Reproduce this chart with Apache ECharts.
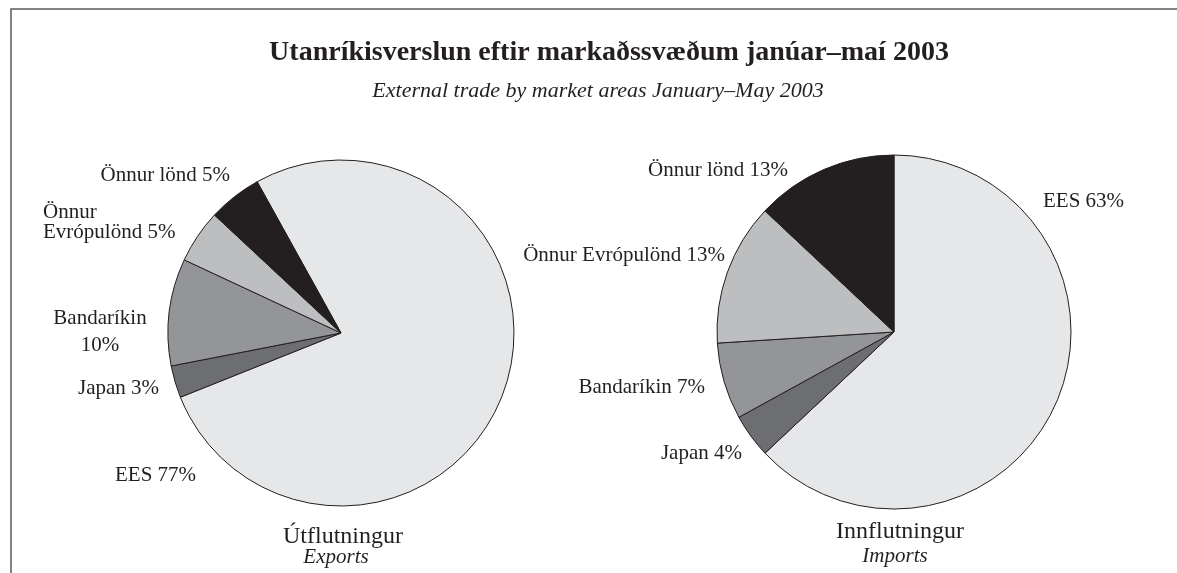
<!DOCTYPE html>
<html>
<head>
<meta charset="utf-8">
<script src="https://cdn.jsdelivr.net/npm/echarts@6/dist/echarts.min.js"></script>
<style>
  html, body { margin: 0; padding: 0; background: #fff; }
  #chart { width: 1177px; height: 573px; }
</style>
</head>
<body>
<div id="chart"></div>
<script>
// market areas, same order in both pies (clockwise from the EES slice)
const categories = ['EES', 'Japan', 'Bandaríkin', 'Önnur Evrópulönd', 'Önnur lönd'];
const exportShares = [77, 3, 10, 5, 5];
const importShares = [63, 4, 7, 13, 13];
const sliceColors = ['#e6e7e8', '#6d6e71', '#939598', '#bcbec0', '#231f20'];

const ink = '#231f20';
const serif = '"Liberation Serif", "Times New Roman", serif';

// label texts where the original breaks the line
const exportLabelText = {
  'Bandaríkin': (v) => `Bandaríkin\n${v}%`,
  'Önnur Evrópulönd': (v) => `Önnur\nEvrópulönd ${v}%`,
};

// where each slice label sits: [x, y (middle), align, lineHeight]
const exportSpots = [
  [115, 475, 'left', 21],
  [78, 388, 'left', 21],
  [100, 332, 'center', 27],
  [43, 222, 'left', 20],
  [230, 175, 'right', 21],
];
const importSpots = [
  [1043, 201, 'left', 21],
  [742, 453, 'right', 21],
  [705, 387, 'right', 21],
  [725, 255, 'right', 21],
  [788, 170, 'right', 21],
];

const chart = echarts.init(document.getElementById('chart'), null, { renderer: 'canvas' });

const pieSeries = (values, center, radius, startAngle) => ({
  type: 'pie',
  center,
  radius,
  startAngle,
  clockwise: true,
  silent: true,
  data: categories.map((c, i) => ({
    name: c,
    value: values[i],
    itemStyle: { color: sliceColors[i] },
  })),
  itemStyle: { borderColor: ink, borderWidth: 1 },
  label: { show: false },
  labelLine: { show: false },
  emphasis: { disabled: true },
});

const sliceLabels = (values, spots, texts) =>
  categories.map((c, i) => ({
    type: 'text',
    silent: true,
    x: spots[i][0],
    y: spots[i][1],
    style: {
      text: texts[c] ? texts[c](values[i]) : `${c} ${values[i]}%`,
      font: `21px ${serif}`,
      fill: ink,
      textAlign: spots[i][2],
      textVerticalAlign: 'middle',
      lineHeight: spots[i][3],
    },
  }));

const option = {
  animation: false,
  backgroundColor: '#fff',
  title: [
    {
      text: 'Utanríkisverslun eftir markaðssvæðum janúar–maí 2003',
      left: 604, top: 34, textAlign: 'center',
      textStyle: { fontFamily: serif, fontSize: 28, fontWeight: 'bold', color: ink },
    },
    {
      text: 'External trade by market areas January–May 2003',
      left: 593, top: 75, textAlign: 'center',
      textStyle: { fontFamily: serif, fontSize: 22, fontStyle: 'italic', fontWeight: 'normal', color: ink },
    },
    {
      text: 'Útflutningur',
      left: 338, top: 520, textAlign: 'center',
      textStyle: { fontFamily: serif, fontSize: 24, fontWeight: 'normal', color: ink },
    },
    {
      text: 'Exports',
      left: 331, top: 542, textAlign: 'center',
      textStyle: { fontFamily: serif, fontSize: 21, fontStyle: 'italic', fontWeight: 'normal', color: ink },
    },
    {
      text: 'Innflutningur',
      left: 895, top: 515, textAlign: 'center',
      textStyle: { fontFamily: serif, fontSize: 24, fontWeight: 'normal', color: ink },
    },
    {
      text: 'Imports',
      left: 890, top: 541, textAlign: 'center',
      textStyle: { fontFamily: serif, fontSize: 21, fontStyle: 'italic', fontWeight: 'normal', color: ink },
    },
  ],
  graphic: [
    {
      type: 'polyline',
      shape: { points: [[11, 573], [11, 9], [1177, 9]] },
      style: { stroke: '#58595b', lineWidth: 1.5, fill: null },
      silent: true,
    },
    ...sliceLabels(exportShares, exportSpots, exportLabelText),
    ...sliceLabels(importShares, importSpots, {}),
  ],
  series: [
    pieSeries(exportShares, [341, 333], 173, 119),
    pieSeries(importShares, [894, 332], 177, 90),
  ],
};

chart.setOption(option);
window.addEventListener('resize', () => chart.resize());
</script>
</body>
</html>
